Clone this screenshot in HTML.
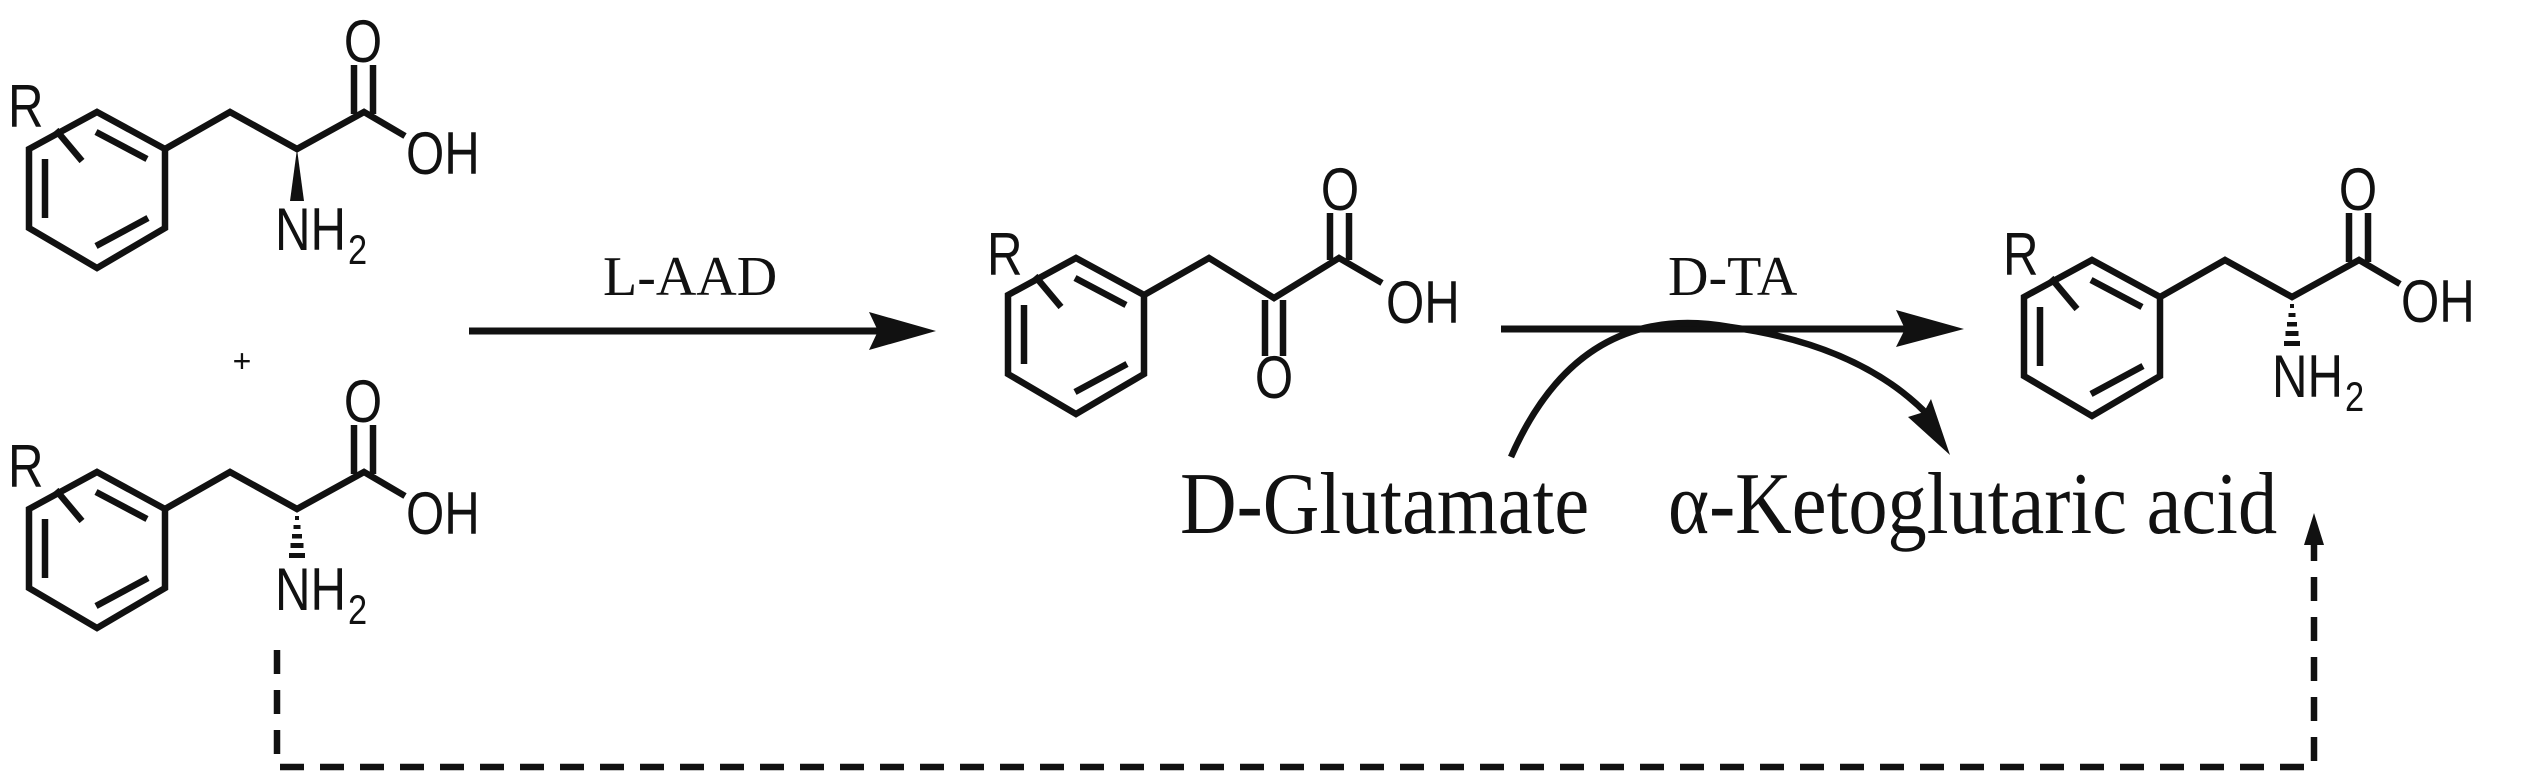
<!DOCTYPE html>
<html><head><meta charset="utf-8"><style>
html,body{margin:0;padding:0;background:#fff;}
svg{display:block;}
.a{font-family:"Liberation Sans",sans-serif;font-size:60px;fill:#111;}
.s{font-family:"Liberation Sans",sans-serif;font-size:42px;fill:#111;}
.l{font-family:"Liberation Serif",serif;fill:#111;}
</style></head><body>
<svg width="2535" height="778" viewBox="0 0 2535 778" xmlns="http://www.w3.org/2000/svg">
<defs>
<g id="ring" fill="none" stroke="#111" stroke-width="6.5" stroke-linejoin="miter" stroke-linecap="butt">
<polygon points="0,0 68,37 68,116 0,156 -68,116 -68,37"/>
<line x1="-1" y1="20" x2="50" y2="47"/>
<line x1="-1" y1="134" x2="51" y2="106"/>
<line x1="-52" y1="47" x2="-52" y2="106"/>
<line x1="-41" y1="18" x2="-15" y2="49"/>
</g>
<g id="acid">
<use href="#ring"/>
<text class="a" transform="translate(-89,15) scale(0.82,1)">R</text>
<polyline points="68,37 133,0 200,37 267,0 308,24" fill="none" stroke="#111" stroke-width="6.5"/>
<line x1="257" y1="2" x2="257" y2="-47" stroke="#111" stroke-width="6.5"/>
<line x1="276" y1="2" x2="276" y2="-47" stroke="#111" stroke-width="6.5"/>
<text class="a" text-anchor="middle" transform="translate(266,-50) scale(0.82,1)">O</text>
<text class="a" transform="translate(309,62) scale(0.82,1)">OH</text>
</g>
<g id="hash" fill="#111">
<rect x="198" y="44" width="4" height="4"/>
<rect x="196.5" y="53" width="7" height="4"/>
<rect x="195" y="62" width="10" height="4.5"/>
<rect x="193.5" y="71" width="13" height="5"/>
<rect x="192" y="81" width="16" height="5"/>
</g>
<g id="nh2">
<text class="a" transform="translate(0,0) scale(0.82,1)">NH</text>
<text class="s" transform="translate(73,14) scale(0.82,1)">2</text>
</g>
</defs>

<g transform="translate(97,112)">
<use href="#acid"/>
<polygon points="200,37 193,89 207,89" fill="#111"/>
<use href="#nh2" transform="translate(178,138)"/>
</g>

<text class="a" x="242" y="372" text-anchor="middle" style="font-size:32px">+</text>

<g transform="translate(97,472)">
<use href="#acid"/>
<use href="#hash"/>
<use href="#nh2" transform="translate(178,138)"/>
</g>

<text class="l" x="603" y="295" style="font-size:56px">L-AAD</text>
<line x1="469" y1="331" x2="900" y2="331" stroke="#111" stroke-width="7"/>
<polygon points="936,331 869,312 878,331 869,350" fill="#111"/>

<g transform="translate(1076,258)">
<use href="#ring"/>
<text class="a" transform="translate(-89,17) scale(0.82,1)">R</text>
<polyline points="68,37 133,0 198,40 263,0 306,25" fill="none" stroke="#111" stroke-width="6.5"/>
<line x1="254" y1="2" x2="254" y2="-45" stroke="#111" stroke-width="6.5"/>
<line x1="273" y1="2" x2="273" y2="-45" stroke="#111" stroke-width="6.5"/>
<text class="a" text-anchor="middle" transform="translate(264,-48) scale(0.82,1)">O</text>
<line x1="189" y1="42" x2="189" y2="98" stroke="#111" stroke-width="6.5"/>
<line x1="207" y1="42" x2="207" y2="98" stroke="#111" stroke-width="6.5"/>
<text class="a" text-anchor="middle" transform="translate(198,140) scale(0.82,1)">O</text>
<text class="a" transform="translate(310,65) scale(0.82,1)">OH</text>
</g>

<text class="l" x="1668" y="295" style="font-size:56px">D-TA</text>
<line x1="1501" y1="329" x2="1910" y2="329" stroke="#111" stroke-width="7"/>
<polygon points="1964,329 1896,310 1905,329 1896,347" fill="#111"/>
<path d="M1511,457 Q1580,300 1730,327 Q1860,345 1928,415" fill="none" stroke="#111" stroke-width="6.5"/>
<polygon points="1950,455 1931,399 1924,412 1908,417" fill="#111"/>
<text class="l" transform="translate(1180,533) scale(0.98,1.1)" style="font-size:80px">D-Glutamate</text>
<text class="l" transform="translate(1668,533) scale(0.98,1.1)" style="font-size:80px">α-Ketoglutaric acid</text>

<g transform="translate(2092,260)">
<use href="#acid"/>
<use href="#hash"/>
<use href="#nh2" transform="translate(180,137)"/>
</g>

<polyline points="277,650 277,767 2314,767 2314,540" fill="none" stroke="#111" stroke-width="6.5" stroke-dasharray="24,16"/>
<polygon points="2314,513 2304,545 2324,545" fill="#111"/>
</svg>
</body></html>
